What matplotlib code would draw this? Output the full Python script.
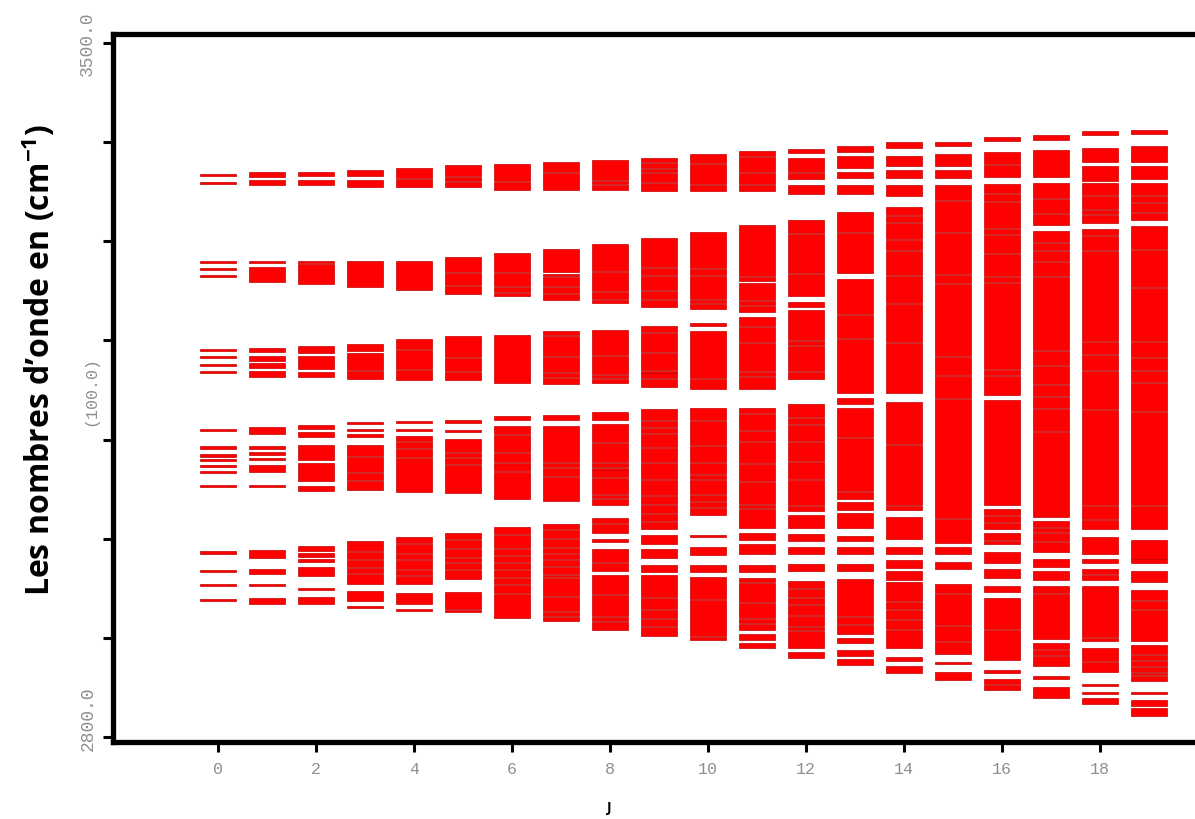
import matplotlib
matplotlib.use('Agg')
import matplotlib.pyplot as plt
from matplotlib.transforms import blended_transform_factory, ScaledTranslation

# ---------------- data (wavenumbers in cm-1, intervals given as (upper, lower)) ----------------
j_values = list(range(20))

j00 = [(3367, 3367), (3359, 3359), (3279, 3279), (3273.5, 3271), (3265, 3265),
       (3190, 3190), (3183, 3183), (3175, 3175), (3168.5, 3168.5),
       (3110, 3110), (3092, 3092), (3084, 3084), (3079, 3079), (3073, 3073), (3067, 3067), (3053, 3053),
       (2986, 2986), (2967, 2967), (2953, 2953), (2938, 2938)]
j01 = [(3370, 3365), (3362, 3357), (3279, 3279), (3274, 3259), (3192, 3188), (3184, 3179), (3177, 3172),
       (3169, 3163), (3113, 3106), (3092, 3092), (3086, 3086), (3080, 3080), (3074, 3067), (3053, 3053),
       (2989, 2981), (2969, 2964), (2953, 2953), (2940, 2934)]
j02 = [(3370, 3366), (3362, 3357), (3279, 3279), (3277, 3257), (3194, 3187), (3184, 3171), (3168, 3163),
       (3115, 3111), (3108, 3103), (3094, 3079), (3076, 3058), (3053, 3048), (2993, 2988), (2986, 2982),
       (2979, 2976), (2971, 2962), (2949, 2949), (2941, 2934)]
j03 = [(3372, 3366), (3362, 3355), (3280, 3254), (3196, 3189), (3187, 3170), (3169, 3161), (3117, 3117),
       (3110, 3110), (3104, 3104), (3095, 3083), (3082, 3067), (3066, 3059), (3058, 3049), (2998, 2988),
       (2987, 2979), (2978, 2971), (2970, 2965), (2964, 2954), (2947, 2937), (2931, 2931)]
j04 = [(3374, 3364), (3363, 3355), (3280, 3251), (3201, 3191), (3190, 3171), (3170, 3160), (3118, 3118),
       (3111, 3109), (3104, 3099), (3098, 3091), (3090, 3082), (3081, 3047), (3002, 2996), (2995, 2986),
       (2985, 2979), (2978, 2969), (2968, 2963), (2962, 2954), (2945, 2934), (2928, 2928)]
j05 = [(3377, 3366), (3365, 3361), (3360, 3355), (3284, 3269), (3268, 3256), (3255, 3247), (3204, 3183),
       (3182, 3169), (3168, 3160), (3120, 3117), (3109, 3109), (3101, 3087), (3086, 3082), (3081, 3075),
       (3074, 3046), (3006, 3000), (2999, 2991), (2990, 2982), (2981, 2976), (2975, 2969), (2968, 2959),
       (2946, 2929), (2928, 2926)]
j06 = [(3378, 3361), (3360, 3352), (3288, 3269), (3268, 3255), (3254, 3249), (3248, 3245), (3205, 3157),
       (3124, 3120), (3114, 3106), (3105, 3087), (3086, 3077), (3076, 3068), (3067, 3040), (3012, 3005),
       (3004, 2991), (2990, 2984), (2983, 2976), (2975, 2969), (2968, 2961), (2960, 2954), (2953, 2945),
       (2944, 2920)]
j07 = [(3380, 3370), (3369, 3352), (3292, 3269), (3267, 3265), (3264, 3255), (3254, 3248), (3247, 3241),
       (3209, 3205), (3204, 3184), (3183, 3168), (3167, 3163), (3162, 3156), (3125, 3120), (3114, 3077),
       (3076, 3072), (3071, 3063), (3062, 3038), (3015, 3010), (3009, 3001), (3000, 2992), (2991, 2986),
       (2985, 2979), (2978, 2972), (2971, 2964), (2963, 2961), (2960, 2942), (2941, 2927), (2926, 2922),
       (2921, 2917)]
j08 = [(3382, 3362), (3361, 3358), (3357, 3352), (3297, 3270), (3269, 3250), (3249, 3242), (3241, 3238),
       (3211, 3185), (3184, 3166), (3165, 3162), (3161, 3157), (3128, 3120), (3116, 3098), (3097, 3077),
       (3076, 3072), (3071, 3070), (3069, 3062), (3061, 3045), (3044, 3041), (3040, 3034), (3021, 3016),
       (3015, 3006), (3000, 2997), (2990, 2976), (2975, 2967), (2963, 2944), (2943, 2922), (2921, 2917),
       (2916, 2908)]
j09 = [(3384, 3380), (3379, 3374), (3373, 3370), (3369, 3360), (3359, 3351), (3303, 3274), (3273, 3266),
       (3265, 3251), (3250, 3242), (3241, 3234), (3215, 3208), (3207, 3188), (3187, 3170), (3169, 3168),
       (3167, 3162), (3161, 3153), (3131, 3120), (3119, 3113), (3112, 3107), (3106, 3092), (3091, 3077),
       (3076, 3060), (3059, 3044), (3043, 3035), (3034, 3026), (3025, 3018), (3017, 3010), (3004, 2995),
       (2990, 2981), (2973, 2966), (2963, 2941), (2940, 2929), (2928, 2920), (2919, 2912), (2911, 2902)]
j10 = [(3388, 3379), (3378, 3358), (3357, 3351), (3309, 3273), (3272, 3266), (3265, 3242), (3241, 3238),
       (3237, 3232), (3216, 3216), (3210, 3162), (3161, 3151), (3132, 3120), (3119, 3094), (3093, 3077),
       (3076, 3065), (3064, 3060), (3059, 3045), (3044, 3038), (3037, 3032), (3031, 3024), (3003, 3003),
       (2992, 2984), (2973, 2966), (2961, 2939), (2938, 2902), (2901, 2898)]
j11 = [(3391, 3386), (3385, 3370), (3369, 3358), (3357, 3351), (3316, 3265), (3264, 3260), (3258, 3241),
       (3240, 3236), (3235, 3229), (3224, 3215), (3214, 3198), (3197, 3169), (3168, 3164), (3163, 3151),
       (3132, 3127), (3126, 3110), (3109, 3099), (3098, 3076), (3075, 3058), (3057, 3035), (3034, 3031),
       (3030, 3011), (3006, 2999), (2995, 2985), (2973, 2966), (2960, 2956), (2955, 2936), (2935, 2920),
       (2919, 2915), (2914, 2908), (2904, 2898), (2895, 2890)]
j12 = [(3393, 3389), (3384, 3370), (3369, 3363), (3357, 3348), (3321, 3308), (3307, 3268), (3267, 3245),
       (3239, 3234), (3231, 3200), (3199, 3195), (3194, 3169), (3168, 3161), (3136, 3123), (3122, 3116),
       (3115, 3099), (3098, 3078), (3077, 3060), (3059, 3034), (3033, 3028), (3024, 3011), (3005, 2998),
       (2992, 2985), (2974, 2967), (2957, 2950), (2949, 2941), (2940, 2934), (2933, 2923), (2922, 2912),
       (2911, 2908), (2907, 2890), (2886, 2880)]
j13 = [(3396, 3390), (3386, 3374), (3370, 3364), (3357, 3348), (3330, 3309), (3308, 3268), (3262, 3227),
       (3226, 3202), (3201, 3147), (3142, 3136), (3132, 3103), (3102, 3048), (3047, 3040), (3037, 3029),
       (3026, 3011), (3003, 2998), (2992, 2985), (2974, 2967), (2959, 2922), (2921, 2914), (2913, 2904),
       (2900, 2895), (2888, 2882), (2879, 2873)]
j14 = [(3400, 3394), (3386, 3376), (3372, 3364), (3357, 3346), (3335, 3327), (3326, 3319), (3318, 3302),
       (3301, 3291), (3290, 3266), (3265, 3238), (3237, 3198), (3197, 3147), (3138, 3096), (3095, 3034),
       (3033, 3029), (3022, 3000), (2992, 2985), (2978, 2970), (2967, 2958), (2956, 2937), (2936, 2929),
       (2928, 2919), (2918, 2909), (2908, 2890), (2881, 2877), (2872, 2864)]
j15 = [(3400, 3396), (3388, 3376), (3372, 3364), (3357, 3342), (3341, 3309), (3308, 3267), (3266, 3258),
       (3257, 3184), (3183, 3165), (3164, 3142), (3141, 3021), (3020, 2996), (2992, 2985), (2976, 2969),
       (2954, 2945), (2944, 2913), (2912, 2897), (2896, 2884), (2875, 2875), (2866, 2857)]
j16 = [(3405, 3401), (3390, 3378), (3377, 3365), (3358, 3349), (3348, 3341), (3340, 3313), (3312, 3307),
       (3306, 3288), (3287, 3265), (3264, 3259), (3258, 3171), (3170, 3165), (3164, 3145), (3140, 3034),
       (3030, 3024), (3023, 3017), (3016, 3010), (3006, 2999), (2998, 2995), (2987, 2975), (2969, 2960),
       (2952, 2946), (2940, 2909), (2908, 2878), (2866, 2866), (2858, 2853), (2852, 2847)]
j17 = [(3407, 3402), (3392, 3365), (3359, 3344), (3343, 3329), (3328, 3316), (3310, 3299), (3298, 3291),
       (3290, 3280), (3279, 3265), (3264, 3190), (3189, 3175), (3174, 3156), (3155, 3144), (3143, 3132),
       (3131, 3109), (3108, 3022), (3018, 3012), (3011, 3007), (3006, 2998), (2997, 2987), (2979, 2971),
       (2967, 2958), (2952, 2945), (2944, 2899), (2895, 2889), (2888, 2883), (2882, 2872), (2860, 2860),
       (2850, 2839)]
j18 = [(3411, 3407), (3394, 3380), (3376, 3361), (3359, 3347), (3346, 3333), (3332, 3328), (3327, 3318),
       (3312, 3306), (3305, 3291), (3290, 3199), (3198, 3186), (3185, 3170), (3169, 3131), (3130, 3034),
       (3033, 3020), (3019, 3010), (3002, 2985), (2979, 2975), (2969, 2964), (2963, 2958), (2952, 2901),
       (2900, 2897), (2890, 2877), (2876, 2866), (2852, 2852), (2844, 2844), (2839, 2833)]
j19 = [(3412, 3408), (3396, 3380), (3376, 3363), (3359, 3347), (3346, 3340), (3339, 3330), (3329, 3321),
       (3315, 3292), (3291, 3254), (3253, 3199), (3198, 3183), (3182, 3170), (3169, 3158), (3157, 3129),
       (3128, 3034), (3033, 3010), (2999, 2980), (2979, 2975), (2967, 2956), (2948, 2938), (2937, 2929),
       (2928, 2897), (2893, 2884), (2883, 2878), (2877, 2872), (2871, 2866), (2865, 2862), (2861, 2856),
       (2844, 2844), (2837, 2831), (2829, 2821)]

levels = [j00, j01, j02, j03, j04, j05, j06, j07, j08, j09,
          j10, j11, j12, j13, j14, j15, j16, j17, j18, j19]

x_ticks = [0, 2, 4, 6, 8, 10, 12, 14, 16, 18]
x_tick_labels = ['0', '2', '4', '6', '8', '10', '12', '14', '16', '18']
y_ticks = [2800, 2900, 3000, 3100, 3200, 3300, 3400, 3500]
y_tick_labels = ['2800.0', '', '', '', '', '', '', '3500.0']
y_step_label = '(100.0)'
y_step_pos = 3150
x_label = 'J'
y_label = 'Les nombres d\u2019onde en (cm$^{\\mathbf{-1}}$)'

# ---------------- figure ----------------
plt.rcParams['mathtext.fontset'] = 'custom'
plt.rcParams['mathtext.bf'] = 'Open Sans:bold'
plt.rcParams['mathtext.rm'] = 'Open Sans'

W, H = 1195, 820
fig = plt.figure(figsize=(W / 100, H / 100), dpi=100)
ax = fig.add_axes([113 / W, 77 / H, 1082 / W, 708 / H])

MIN_H = 2.2
for j, lv in zip(j_values, levels):
    bottoms, heights = [], []
    for hi, lo in lv:
        h = hi - lo
        if h < MIN_H:
            c = (hi + lo) / 2.0
            lo = c - MIN_H / 2.0
            h = MIN_H
        bottoms.append(lo)
        heights.append(h)
    ax.bar([j] * len(bottoms), heights, bottom=bottoms, width=0.72,
           color='#ff0000', edgecolor='#c40000', linewidth=0.5)

ax.set_xlim(-2.143, 19.94)
ax.set_ylim(2794.9, 3509.1)

for side in ['left', 'top', 'bottom']:
    ax.spines[side].set_linewidth(3.8)
    ax.spines[side].set_color('black')
ax.spines['right'].set_visible(False)

tick_col = '#8f8f8f'
ax.set_xticks(x_ticks)
ax.set_xticklabels(x_tick_labels, family='Liberation Mono', fontsize=12, color=tick_col)
ax.set_yticks(y_ticks)
ax.set_yticklabels(y_tick_labels, family='Liberation Mono', fontsize=13, color=tick_col,
                   rotation=90, va='center')
ax.tick_params(axis='x', direction='out', length=7, width=2.2, color='black', pad=7)
ax.tick_params(axis='y', direction='out', length=7, width=2.2, color='black', pad=5)

# the lowest label sits a little above its tick in the reference
low_lab = ax.get_yticklabels()[0]
low_lab.set_transform(low_lab.get_transform() + ScaledTranslation(0, 0.19, fig.dpi_scale_trans))

trans = blended_transform_factory(ax.transAxes, ax.transData)
ax.text(-0.0205, y_step_pos, y_step_label, transform=trans, rotation=90,
        ha='center', va='center', family='Liberation Mono', fontsize=12, color=tick_col)

ax.set_xlabel(x_label, fontweight='bold', fontsize=10, family='Open Sans', va='center')
ax.xaxis.set_label_coords(0.459, -0.092)
ax.set_ylabel(y_label, fontweight='bold', fontsize=23, family='Open Sans', va='center')
ax.yaxis.set_label_coords(-0.068, 0.541)

fig.savefig('out.png', dpi=100)
